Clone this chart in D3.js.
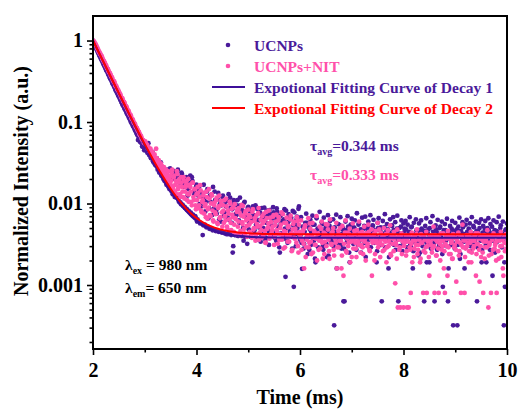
<!DOCTYPE html>
<html><head><meta charset="utf-8">
<script src="https://cdn.jsdelivr.net/npm/d3@7"></script>
<style>
body{margin:0;background:#fff;}
svg{display:block;font-family:"Liberation Serif","Times New Roman",serif;font-weight:bold;}
</style></head><body>
<svg id="chart" width="518" height="412"></svg>
<script>
// ---- data ----
// samples at t = 2.00 + 0.02*i  and  mid samples at t = 2.01 + 0.02*i
const timeStart = 2, timeStep = 0.02, midOffset = 0.01;
const ucnps = [
1.0,0.93,0.86,0.81,0.76,0.71,0.67,0.63,0.59,0.56,0.52,
0.49,0.46,0.43,0.41,0.38,0.36,0.335,0.32,0.295,0.28,
0.265,0.245,0.235,0.218,0.207,0.193,0.183,0.170,0.162,0.152,
0.143,0.135,0.126,0.120,0.112,0.106,0.099,0.094,0.088,0.083,
0.078,0.074,0.069,0.066,0.061,0.058,0.055,0.051,0.049,0.046,
0.047,0.044,0.045,0.040,0.041,0.036,0.037,0.033,0.035,0.030,
0.029,0.028,0.031,0.024,0.025,0.022,0.028,0.020,0.019,0.023,
0.017,0.026,0.016,0.015,0.025,0.014,0.013,0.023,0.012,0.021,
0.0118,0.026,0.0105,0.019,0.0098,0.023,0.0093,0.017,0.0088,0.021,
0.0083,0.015,0.0079,0.022,0.0074,0.019,0.0071,0.013,0.0069,0.017,
0.0064,0.015,0.0098,0.0058,0.012,0.0041,0.017,0.0055,0.0105,0.014,
0.0052,0.0088,0.0125,0.0050,0.0072,0.016,0.0048,0.011,0.0082,0.0046,
0.0135,0.0064,0.0045,0.0095,0.012,0.0044,0.0078,0.0105,0.0042,0.0068,
0.013,0.0043,0.0089,0.0058,0.0025,0.011,0.0041,0.0074,0.0095,0.0040,
0.0062,0.0118,0.0040,0.0083,0.0050,0.0102,0.0039,0.0070,0.0032,0.0091,
0.0058,0.0084,0.0039,0.0019,0.0072,0.0047,0.0095,0.0036,0.0063,0.0051,
0.0078,0.0034,0.0088,0.0043,0.0060,0.0069,0.0038,0.0082,0.0049,0.0031,
0.0074,0.0056,0.0040,0.0090,0.0045,0.0066,0.0035,0.0079,0.0052,0.0029,
0.0070,0.0043,0.0061,0.0037,0.0085,0.00126,0.0057,0.0033,0.0074,0.0048,
0.0064,0.0039,0.0081,0.00095,0.0055,0.0030,0.0069,0.0044,0.0092,0.0036,
0.0068,0.00158,0.0047,0.0032,0.0058,0.0075,0.0040,0.0052,0.0027,0.0063,
0.0044,0.0071,0.0036,0.0055,0.0019,0.0066,0.0049,0.0038,0.0079,0.0042,
0.0059,0.0030,0.0067,0.0046,0.0053,0.0022,0.0072,0.0041,0.0061,0.0035,
0.0050,0.0064,0.00032,0.0045,0.0073,0.0033,0.0056,0.0039,0.0068,0.0028,
0.0048,0.00063,0.00063,0.0060,0.0037,0.0070,0.0043,0.0019,0.0055,0.0065,
0.0034,0.0051,0.0062,0.0041,0.0076,0.0031,0.0057,0.0046,0.0025,0.0067,
0.0039,0.0053,0.0069,0.0036,0.0049,0.0060,0.0029,0.0072,0.0044,0.0054,
0.0063,0.0033,0.0047,0.0019,0.0058,0.0066,0.0038,0.0051,0.00063,0.0061,
0.0042,0.0074,0.0035,0.0056,0.0048,0.0022,0.0064,0.0040,0.0053,0.0068,
0.0031,0.0059,0.0045,0.0071,0.00063,0.0050,0.0037,0.0062,0.0026,0.0057,
0.0049,0.0061,0.0036,0.0055,0.0043,0.0068,0.0030,0.0052,0.0016,0.0058,
0.0040,0.0064,0.0034,0.0047,0.0057,0.0025,0.0062,0.0044,0.0038,0.00063,
0.0053,0.0066,0.0032,0.0048,0.0019,0.0059,0.0041,0.0070,0.0036,0.00063,
0.0054,0.0045,0.0063,0.0029,0.0050,0.0039,0.0060,0.00095,0.0047,0.0056,
0.0035,0.0065,0.00063,0.0042,0.0053,0.0031,0.0061,0.00032,0.0046,0.0058,
0.0038,0.00032,0.0052,0.0067,0.0024,0.0044,0.0059,0.0041,0.0016,0.0055,
0.0063,0.0037,0.0049,0.0057,0.0030,0.0068,0.0043,0.0051,0.0035,0.0060,
0.00063,0.0046,0.0058,0.0039,0.0064,0.0027,0.0053,0.0044,0.0061,0.0019,
0.0050,0.0066,0.0036,0.0056,0.0042,0.0013,0.0062,0.0047,0.0033,0.0059,
0.0045,0.0069,0.0038,0.0054,0.0029,0.0060,0.00032,0.00095,0.0048,0.0057
];
const ucnpsMid = [
0.95,0.89,0.83,0.78,0.73,0.69,0.64,0.61,0.57,0.535,
0.50,0.475,0.44,0.42,0.39,0.37,0.345,0.33,0.305,0.29,
0.27,0.255,0.238,0.226,0.21,0.20,0.186,0.176,0.163,0.157,
0.146,0.139,0.129,0.123,0.115,0.109,0.101,0.097,0.090,0.086,
0.080,0.076,0.071,0.060,0.063,0.057,0.056,0.050,0.050,0.045,
0.048,0.046,0.042,0.055,0.039,0.038,0.036,0.043,0.032,0.031,
0.030,0.036,0.026,0.027,0.024,0.032,0.022,0.021,0.027,0.019,
0.018,0.025,0.0165,0.016,0.027,
0.0145,0.020,0.0135,0.025,0.0125,0.012,0.022,0.0112,0.018,0.0103,
0.024,0.0097,0.016,0.0091,0.020,0.0086,0.0125,0.0081,0.018,0.0077,
0.021,0.0073,0.014,0.0070,0.016,
0.0060,0.0125,0.016,0.0057,0.0092,0.0135,0.0054,0.0115,0.0080,0.0051,
0.015,0.0066,0.0049,0.0105,0.0128,0.0047,0.0086,0.0140,0.0046,0.0075,
0.0112,0.0045,0.0098,0.0060,0.0044,
0.0125,0.0070,0.0043,0.0092,0.0108,0.0042,0.0063,0.0118,0.0041,0.0085,
0.0030,0.0100,0.0041,0.0072,0.0110,0.0040,0.0058,0.0095,0.0040,0.0080,
0.0035,0.0105,0.0039,0.0066,0.0088,
0.0048,0.0080,0.0039,0.0064,0.0092,0.0044,0.0071,0.0055,0.0086,0.0037,
0.0062,0.0076,0.0042,0.0068,0.0050,0.0089,0.0036,0.0058,0.0073,0.0046,
0.0083,0.0040,0.0065,0.0053,0.0078,
0.0038,0.0060,0.0087,0.0043,0.0069,0.0025,0.0057,0.0076,0.0041,0.0064,
0.0049,0.0082,0.0035,0.0059,0.0071,0.0045,0.0067,0.0028,0.0054,0.0078,
0.0042,0.0063,0.0050,0.0086,0.0039,
0.0041,0.0033,0.0052,0.0028,0.0045,0.0037,0.0058,0.0024,0.0039,0.0048,
0.0031,0.0043,0.0055,0.0035,0.0021,0.0046,0.0038,0.0029,0.0050,0.0036,
0.0044,0.0056,0.0027,0.0040,0.0049,0.0032,0.0045,0.0023,0.0053,0.0038,
0.0034,0.0047,0.0030,0.0051,0.0039,0.0016,0.0043,0.0036,0.0054,0.0031,
0.0042,0.0050,0.0028,0.0039,0.0047,0.0034,0.0052,0.0025,0.0041,0.0037,
0.0046,0.0032,0.0050,0.0040,0.0027,0.0044,0.0055,0.0035,0.0048,0.0030,
0.0038,0.0049,0.0033,0.0022,0.0043,0.0052,0.0036,0.0046,0.0029,0.0041,
0.0053,0.0034,0.0045,0.0039,0.0026,0.0050,0.0036,0.0047,0.0031,0.0043,
0.0037,0.0051,0.0029,0.0046,0.0040,0.0016,0.0044,0.0034,0.0054,0.0032,
0.0047,0.0038,0.0027,0.0049,0.0036,0.0043,0.0030,0.0052,0.0040,0.0033,
0.0044,0.0034,0.0048,0.0029,0.0039,0.0045,0.0031,0.0051,0.0036,0.0026,
0.0042,0.0033,0.0047,0.0038,0.0023,0.0044,0.0035,0.0049,0.0030,0.0041,
0.0046,0.0034,0.0019,0.0043,0.0037,0.0050,0.0028,0.0040,0.0045,0.0032,
0.0036,0.0048,0.0027,0.0042,0.0031,0.0052,0.0038,0.0024,0.0044,0.0034,
0.0047,0.0030,0.0041,0.0016,0.0045,0.0036,0.0049,0.0033,0.0039,0.0028,
0.0043,0.0048,0.0031,0.0040,0.0021,0.0046,0.0037,0.0051,0.0034,0.0042,
0.0029,0.0045,0.0038,0.0048,0.0026,0.0043,0.0035,0.0053,0.0032,0.0040,
0.0046,0.0029,0.0041,0.0050,0.0035,0.0019,0.0044,0.0037,0.0049,0.0031,
0.0042,0.0033,0.0047,0.0027,0.0043,0.0052,0.0035,0.0040,0.0025,0.0046,
0.0034,0.0044,0.0038,0.0050,0.0030,0.0043,0.0036,0.0019,0.0047,0.0040
];
const ucnpsNit = [
1.0,0.96,0.91,0.87,0.80,0.77,0.72,0.68,0.65,0.60,0.57,
0.54,0.50,0.48,0.45,0.42,0.40,0.38,0.355,0.33,0.315,
0.30,0.275,0.265,0.245,0.235,0.22,0.205,0.196,0.182,0.175,
0.162,0.155,0.144,0.137,0.128,0.122,0.113,0.108,0.101,0.096,
0.090,0.085,0.080,0.076,0.071,0.068,0.063,0.060,0.057,0.056,
0.053,0.051,0.047,0.046,0.043,0.042,0.039,0.038,0.036,0.034,
0.047,0.031,0.030,0.029,0.026,0.027,0.024,0.025,0.022,0.024,
0.020,0.022,0.019,0.021,0.017,0.024,0.016,0.021,0.014,0.019,
0.025,0.015,0.018,0.013,0.021,0.016,0.012,0.019,0.014,0.017,
0.011,0.020,0.013,0.016,0.0105,0.018,0.012,0.015,0.0095,0.013,
0.016,0.0088,0.012,0.0145,0.0078,0.011,0.0135,0.0092,0.0068,0.012,
0.0085,0.015,0.0072,0.010,0.0125,0.0062,0.0095,0.0078,0.011,0.0058,
0.0088,0.0125,0.0068,0.0098,0.0052,0.0082,0.011,0.0062,0.0092,0.0048,
0.0075,0.0105,0.0058,0.0086,0.0068,0.0045,0.0098,0.0064,0.0079,0.0052,
0.0088,0.0041,0.0071,0.0059,0.0093,0.0049,0.0076,0.0062,0.0039,0.0084,
0.0055,0.0068,0.0042,0.0079,0.0048,0.0061,0.0035,0.0072,0.0052,0.0088,
0.0044,0.0063,0.0038,0.0057,0.0075,0.0046,0.0033,0.0066,0.0051,0.0082,
0.0040,0.0059,0.0047,0.0069,0.0031,0.0054,0.0073,0.0043,0.0062,0.0036,
0.0050,0.0078,0.0041,0.0028,0.0058,0.0045,0.0067,0.0034,0.0053,0.0039,
0.0071,0.0026,0.0048,0.0060,0.0037,0.0044,0.0068,0.0030,0.0055,0.0041,
0.0062,0.0035,0.0047,0.0016,0.0054,0.0029,0.0040,0.0066,0.0033,0.0049,
0.0024,0.0058,0.0038,0.0045,0.0031,0.0070,0.0042,0.0027,0.0052,0.0036,
0.0060,0.0021,0.0044,0.0034,0.0056,0.0039,0.0048,0.0026,0.0064,0.0032,
0.0043,0.0050,0.0023,0.0037,0.0058,0.0029,0.0046,0.0035,0.0041,0.0016,
0.0053,0.0013,0.0039,0.0062,0.0025,0.0044,0.0033,0.0049,0.0038,0.0022,
0.0057,0.0036,0.0042,0.0028,0.0047,0.0034,0.0060,0.0040,0.0031,0.0045,
0.0024,0.0052,0.0037,0.0043,0.0030,0.0055,0.0027,0.0039,0.0048,0.0033,
0.0041,0.0020,0.0046,0.0035,0.0058,0.0032,0.0033,0.0044,0.0038,0.0026,
0.0050,0.0036,0.0042,0.0029,0.0047,0.0034,0.0054,0.0023,0.0040,0.0037,
0.0045,0.00105,0.0031,0.0048,0.0039,0.0027,0.00053,0.0043,0.0035,0.00053,
0.0033,0.0041,0.0026,0.0038,0.00053,0.0029,0.0008,0.0044,0.0035,0.0022,
0.0040,0.0031,0.0048,0.0027,0.0036,0.0019,0.0042,0.0033,0.0008,0.0039,
0.0025,0.0045,0.0030,0.0037,0.0013,0.0034,0.0041,0.0028,0.0052,0.0008,
0.0036,0.0023,0.0039,0.0008,0.0032,0.0043,0.0027,0.0035,0.0016,0.0008,
0.0040,0.0030,0.0046,0.0024,0.0037,0.0033,0.0021,0.0042,0.0029,0.0038,
0.0011,0.0034,0.0044,0.0026,0.0039,0.0031,0.0055,0.0036,0.0008,0.0028,
0.0041,0.0033,0.0019,0.0037,0.0045,0.0025,0.0035,0.0030,0.0040,0.0013,
0.0032,0.0043,0.0027,0.0038,0.0022,0.0036,0.0008,0.0041,0.0029,0.0034,
0.0047,0.00053,0.0031,0.0039,0.0024,0.0036,0.0043,0.0028,0.0033,0.0008,
0.0040,0.0021,0.0035,0.0045,0.0030,0.0016,0.0038,0.0026,0.0042,0.0032
];
const ucnpsNitMid = [
0.98,0.95,0.90,0.85,0.80,0.74,0.71,0.67,0.64,0.59,
0.56,0.53,0.50,0.46,0.445,0.41,0.395,0.365,0.35,0.32,
0.315,0.285,0.275,0.255,0.245,0.228,0.217,0.198,0.193,0.178,
0.172,0.158,0.152,0.14,0.136,0.124,0.121,0.11,0.107,0.098,
0.095,0.087,0.084,0.078,0.075,0.069,0.067,0.061,0.060,0.055,
0.058,0.054,0.052,0.049,0.044,0.047,0.041,0.043,0.037,0.040,
0.033,0.036,0.032,0.034,0.028,0.031,0.029,0.026,0.028,0.024,
0.026,0.023,0.025,0.020,0.022,
0.019,0.026,0.015,0.022,0.017,0.013,0.023,0.016,0.020,0.012,
0.018,0.014,0.021,0.0115,0.016,0.019,0.013,0.0105,0.017,0.014,
0.0095,0.018,0.011,0.015,0.0085,
0.011,0.0135,0.0095,0.0168,0.0082,0.0105,0.0125,0.0075,0.0098,0.0140,
0.0065,0.0089,0.0115,0.0070,0.0130,0.0082,0.0060,0.0102,0.0074,0.0118,
0.0056,0.0092,0.0066,0.0108,0.0078,
0.0095,0.0058,0.0070,0.0115,0.0052,0.0082,0.0064,0.0100,0.0047,0.0073,
0.0090,0.0055,0.0066,0.0042,0.0085,0.0060,0.0078,0.0046,0.0096,0.0056,
0.0069,0.0043,0.0081,0.0053,0.0065,
0.0072,0.0045,0.0059,0.0038,0.0085,0.0050,0.0066,0.0041,0.0056,0.0076,
0.0036,0.0053,0.0047,0.0070,0.0040,0.0061,0.0033,0.0079,0.0049,0.0057,
0.0037,0.0067,0.0044,0.0052,0.0072,
0.0039,0.0060,0.0047,0.0032,0.0068,0.0042,0.0055,0.0036,0.0074,0.0046,
0.0029,0.0058,0.0040,0.0051,0.0034,0.0064,0.0043,0.0027,0.0056,0.0038,
0.0049,0.0033,0.0061,0.0025,0.0045,
0.0038,0.0027,0.0044,0.0032,0.0051,0.0022,0.0036,0.0041,0.0029,0.0057,
0.0034,0.0040,0.0025,0.0046,0.0031,0.0037,0.0020,0.0043,0.0035,0.0028,
0.0049,0.0033,0.0039,0.0024,0.0042,0.0030,0.0055,0.0036,0.0021,0.0040,
0.0031,0.0045,0.0027,0.0038,0.0033,0.0016,0.0041,0.0029,0.0050,0.0035,
0.0023,0.0039,0.0032,0.0044,0.0026,0.0037,0.0030,0.0042,0.0019,0.0034,
0.0040,0.0028,0.0046,0.0033,0.0022,0.0038,0.0031,0.0043,0.0025,0.0036,
0.0029,0.0041,0.0034,0.0020,0.0039,0.0032,0.0045,0.0026,0.0037,0.0013,
0.0035,0.0042,0.0024,0.0033,0.0038,0.0029,0.0048,0.0022,0.0036,0.0031,
0.0040,0.0027,0.0034,0.0019,0.0043,0.0030,0.0037,0.0024,0.0041,0.0032,
0.0026,0.0038,0.0033,0.0021,0.00053,0.0036,0.0029,0.0040,0.0024,0.0034,
0.0030,0.0037,0.0023,0.00053,0.0034,0.0040,0.0027,0.0032,0.0019,0.0039,
0.0028,0.0035,0.0042,0.0024,0.0031,0.0037,0.0021,0.0033,0.0040,0.0026,
0.0036,0.0029,0.0008,0.0034,0.0022,0.0039,0.0031,0.0025,0.0037,0.0030,
0.0041,0.0023,0.0034,0.0028,0.0038,0.0020,0.0035,0.0030,0.0043,0.0026,
0.0032,0.0037,0.0013,0.0029,0.0040,0.0024,0.0034,0.0021,0.0038,0.0031,
0.0027,0.0036,0.0042,0.0023,0.0033,0.0008,0.0039,0.0029,0.0035,0.0022,
0.0037,0.0030,0.0041,0.0026,0.0033,0.0019,0.0038,0.0028,0.0035,0.0043,
0.0024,0.0032,0.0037,0.0011,0.0030,0.0040,0.0025,0.0034,0.0021,0.0036,
0.0029,0.0039,0.0023,0.0033,0.0008,0.0037,0.0027,0.0041,0.0031,0.0020,
0.0035,0.0026,0.0040,0.0030,0.0022,0.0036,0.0013,0.0033,0.0039,0.0028
];
const fitTime = [2.0,2.1,2.2,2.3,2.4,2.5,2.6,2.7,2.8,2.9,3.0,3.1,3.2,3.3,3.4,3.5,3.6,3.7,3.8,3.9,4.0,4.1,4.2,4.3,4.4,4.5,4.6,4.7,4.8,4.9,5.0,5.2,5.5,6,7,8,9,10];
const fitDecay1 = [1.0,0.7396,0.5472,0.4052,0.3003,0.2228,0.1655,0.1232,0.0920,0.0690,0.0519,0.0393,0.0301,0.0232,0.0181,0.0144,0.0116,0.00957,0.00806,0.00695,0.00612,0.00552,0.00507,0.00474,0.00449,0.00431,0.00418,0.00408,0.00401,0.003953,0.003913,0.003862,0.003819,0.0038,0.0038,0.0038,0.0038,0.0038];
const fitDecay2 = [1.0,0.7417,0.5504,0.4087,0.3038,0.2261,0.1685,0.1259,0.0943,0.0709,0.0536,0.0408,0.0313,0.0243,0.0191,0.0152,0.01236,0.01024,0.00867,0.00751,0.00665,0.00602,0.00555,0.0052,0.00494,0.00475,0.00461,0.0045,0.00442,0.004365,0.00432,0.00427,0.00422,0.0042,0.0042,0.0042,0.0042,0.0042];
const xTicks = [2,4,6,8,10];
const xMinorTicks = [3,5,7,9];
const yTicks = [1,0.1,0.01,0.001];
const yTickLabels = ["1","0.1","0.01","0.001"];
const legendLabels = ["UCNPs","UCNPs+NIT","Expotional Fitting Curve of Decay 1","Expotional Fitting Curve of Decay 2"];
const tauValues = ["=0.344 ms","=0.333 ms"];

// ---- styles ----
const PURPLE = "#4a1a9a", PINK = "#ff50aa", RED = "#ff0000", PURPLE_LINE = "#3d0f99";
const FONT = "Liberation Serif, Times New Roman, serif";

const svg = d3.select("#chart");
const L = 93, R = 507, T = 16, B = 349;
const x = d3.scaleLinear().domain([2, 10]).range([L, R]);
const y = d3.scaleLog().domain([1.64e-4, 2]).range([B, T]);

svg.append("defs").append("clipPath").attr("id","clip")
  .append("rect").attr("x",L).attr("y",T).attr("width",R-L).attr("height",B-T);

const toPts = (arr, off) => arr.map((v,i)=>({t: timeStart + off + i*timeStep, v}));
const plot = svg.append("g").attr("clip-path","url(#clip)");
const purplePts = toPts(ucnps,0).concat(toPts(ucnpsMid,midOffset));
const pinkPts = toPts(ucnpsNit,0).concat(toPts(ucnpsNitMid,midOffset));
plot.append("g").selectAll("circle").data(purplePts).join("circle")
  .attr("cx",d=>x(d.t)).attr("cy",d=>y(d.v)).attr("r",2.4).attr("fill",PURPLE);
plot.append("g").selectAll("circle").data(pinkPts).join("circle")
  .attr("cx",d=>x(d.t)).attr("cy",d=>y(d.v)).attr("r",2.4).attr("fill",PINK);

const line = d3.line().x(d=>x(d[0])).y(d=>y(d[1])).curve(d3.curveMonotoneX);
plot.append("path").datum(fitTime.map((t,i)=>[t,fitDecay1[i]]))
  .attr("d",line).attr("fill","none").attr("stroke",PURPLE_LINE).attr("stroke-width",2);
plot.append("path").datum(fitTime.map((t,i)=>[t,fitDecay2[i]]))
  .attr("d",line).attr("fill","none").attr("stroke",RED).attr("stroke-width",2);

// axes
function styleAxis(g){
  g.attr("font-family",FONT).attr("font-size",20).attr("font-weight","bold");
  g.select(".domain").remove();
  g.selectAll(".tick line").attr("stroke","#000").attr("stroke-width",1.6);
  g.selectAll(".tick text").attr("fill","#000");
}
svg.append("g").attr("transform",`translate(0,${B})`)
  .call(d3.axisBottom(x).tickValues(xTicks).tickSize(6).tickPadding(8).tickFormat(d3.format("d")))
  .call(styleAxis);
svg.append("g").attr("transform",`translate(0,${B})`)
  .call(d3.axisBottom(x).tickValues(xMinorTicks).tickSize(3.5).tickFormat(""))
  .call(styleAxis);
svg.append("g").attr("transform",`translate(${L},0)`)
  .call(d3.axisLeft(y).tickValues(yTicks).tickSize(6).tickPadding(4).tickFormat((d,i)=>yTickLabels[i]))
  .call(styleAxis);
const yMinor = [];
[-4,-3,-2,-1,0].forEach(e=>{ for(let k=2;k<=9;k++){ const v=k*Math.pow(10,e); if(v>1.64e-4 && v<1.95) yMinor.push(v);} });
svg.append("g").attr("transform",`translate(${L},0)`)
  .call(d3.axisLeft(y).tickValues(yMinor).tickSize(3.5).tickFormat(""))
  .call(styleAxis);

// frame
svg.append("rect").attr("x",L).attr("y",T).attr("width",R-L).attr("height",B-T)
  .attr("fill","none").attr("stroke","#000").attr("stroke-width",2);

// titles
svg.append("text").attr("x",300).attr("y",404).attr("text-anchor","middle")
  .attr("font-size",20).attr("font-family",FONT).attr("font-weight","bold").text("Time (ms)");
svg.append("text").attr("transform","translate(28,181) rotate(-90)").attr("text-anchor","middle")
  .attr("font-size",20).attr("font-family",FONT).attr("font-weight","bold").text("Normalized Intensity (a.u.)");

// legend
const lg = svg.append("g").attr("font-family",FONT).attr("font-weight","bold").attr("font-size",15.5);
lg.append("circle").attr("cx",228).attr("cy",45).attr("r",2.3).attr("fill",PURPLE);
lg.append("text").attr("x",254).attr("y",50.5).attr("fill",PURPLE).text(legendLabels[0]);
lg.append("circle").attr("cx",228).attr("cy",66).attr("r",2.3).attr("fill",PINK);
lg.append("text").attr("x",254).attr("y",72).attr("fill",PINK).text(legendLabels[1]);
lg.append("line").attr("x1",212).attr("x2",245).attr("y1",87).attr("y2",87).attr("stroke",PURPLE_LINE).attr("stroke-width",2);
lg.append("text").attr("x",254).attr("y",93).attr("fill",PURPLE).text(legendLabels[2]);
lg.append("line").attr("x1",212).attr("x2",245).attr("y1",108).attr("y2",108).attr("stroke",RED).attr("stroke-width",2);
lg.append("text").attr("x",254).attr("y",114).attr("fill",RED).text(legendLabels[3]);

// tau annotations
[[150.5,PURPLE,tauValues[0]],[180,PINK,tauValues[1]]].forEach(([yy,col,val])=>{
  const t = svg.append("text").attr("x",310).attr("y",yy).attr("fill",col)
    .attr("font-family",FONT).attr("font-weight","bold").attr("font-size",15.5);
  t.append("tspan").text("τ");
  t.append("tspan").attr("font-size",10).attr("dy",4).text("avg");
  t.append("tspan").attr("dy",-4).text(val);
});

// lambda annotations
[[270,"ex"," = 980 nm"],[293,"em","= 650 nm"]].forEach(([yy,sub,val])=>{
  const t = svg.append("text").attr("x",125).attr("y",yy).attr("fill","#000")
    .attr("font-family",FONT).attr("font-weight","bold").attr("font-size",15.5);
  t.append("tspan").text("λ");
  t.append("tspan").attr("font-size",10).attr("dy",4).text(sub);
  t.append("tspan").attr("dy",-4).text(val);
});
</script>
</body></html>
